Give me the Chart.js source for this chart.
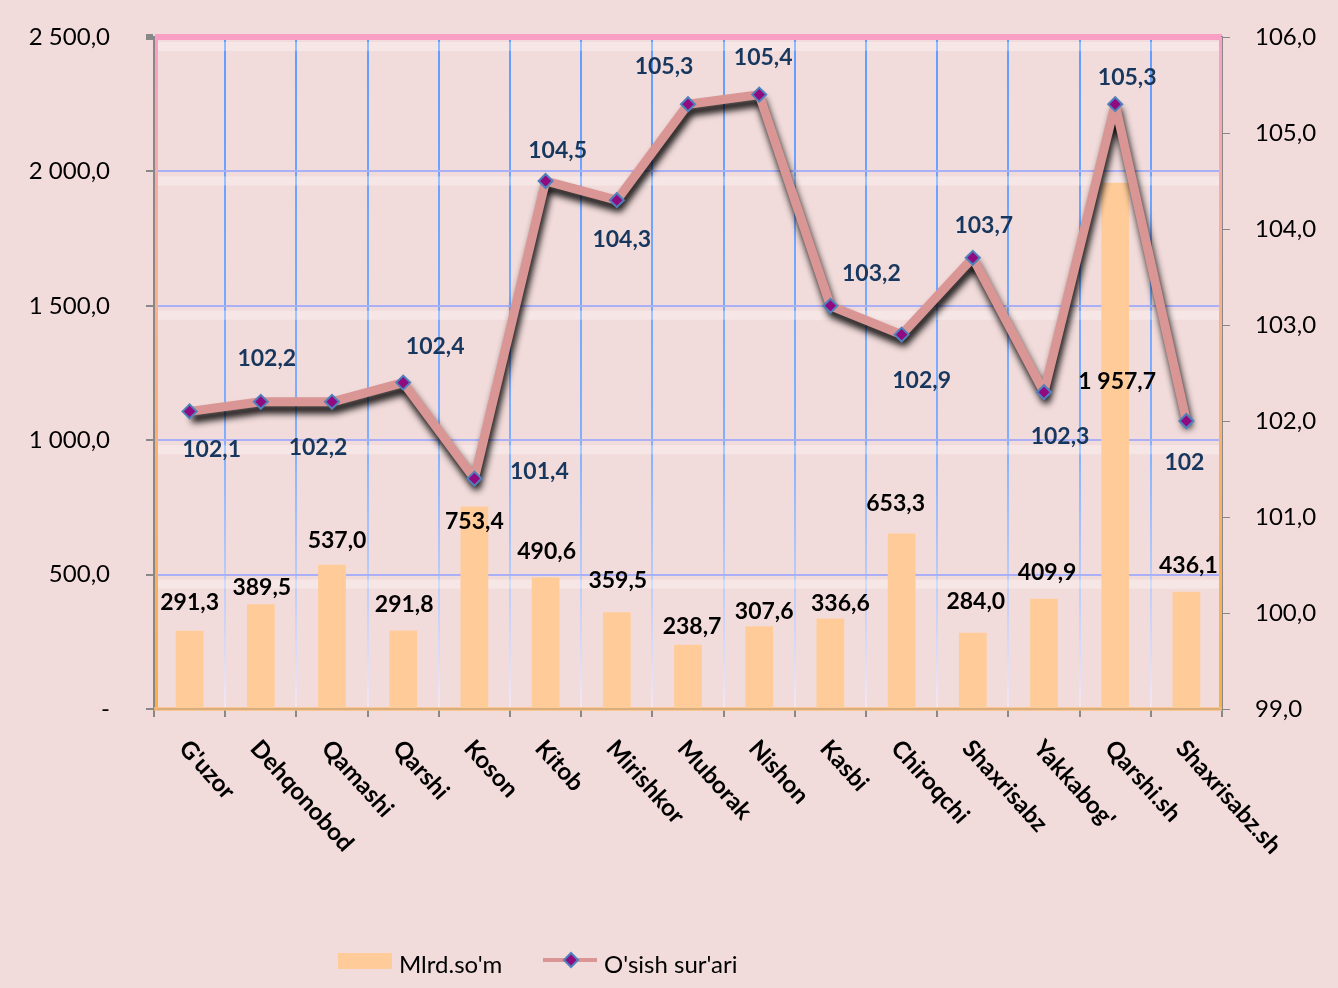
<!DOCTYPE html>
<html>
<head>
<meta charset="utf-8">
<script src="https://cdn.jsdelivr.net/npm/chart.js@4"></script>
<style>
    body { margin: 0; background: #f2dcdb; }
    canvas { display: block; }
</style>
</head>
<body>
<canvas id="chart" width="1338" height="988"></canvas>
<script>
// Districts
const districts = ["G'uzor", "Dehqonobod", "Qamashi", "Qarshi", "Koson", "Kitob", "Mirishkor", "Muborak",
    "Nishon", "Kasbi", "Chiroqchi", "Shaxrisabz", "Yakkabog'", "Qarshi.sh", "Shaxrisabz.sh"];

// Volume, mlrd so'm (left axis)
const volume = [291.3, 389.5, 537.0, 291.8, 753.4, 490.6, 359.5, 238.7, 307.6, 336.6, 653.3, 284.0, 409.9, 1957.7, 436.1];

// Growth rate, % (right axis)
const growth = [102.1, 102.2, 102.2, 102.4, 101.4, 104.5, 104.3, 105.3, 105.4, 103.2, 102.9, 103.7, 102.3, 105.3, 102];

// Axis ranges
const leftTicks = [0, 500, 1000, 1500, 2000, 2500];
const rightTicks = [99, 100, 101, 102, 103, 104, 105, 106];

const seriesNames = ["Mlrd.so'm", "O'sish sur'ari"];

// Label nudges (px) so labels sit where Excel put them
const barLabelDy = [-28, -17, -24, -26, 15, -26, -32, -18, -15, -15, -30, -31, -26, 199, -26];
const barLabelDx = [0, 1, 5, 1, 0, 1, 1, 4, 5, 10, -6, 3, 3, 2, 2];
const lineLabelDx = [22, 6, -14, 32, 65, 12, 5, -24, 4, 41, 20, 11, 16, 12, -2];
const lineLabelDy = [38, -43, 46, -36, -7, -30, 39, -38, -37, -32, 46, -32, 44, -27, 42];

const FONT = "Lato";
Chart.defaults.font.family = FONT;
Chart.defaults.color = "#000";

function fmtNum(v) {
    const parts = v.toFixed(1).split(".");
    parts[0] = parts[0].replace(/\B(?=(\d{3})+(?!\d))/g, " ");
    return parts.join(",");
}

function fmtGrowth(v, i) {
    return i === growth.length - 1 ? String(v) : v.toFixed(1).replace(".", ",");
}

// Background bits: light bands under gridlines, inner border strips
const decorPlugin = {
    id: "decor",
    beforeDatasetsDraw(chart) {
        const { ctx, chartArea: a, scales } = chart;
        ctx.save();
        ctx.fillStyle = "rgba(255,255,255,0.3)";
        leftTicks.forEach((t) => {
            if (t === 0) return;
            const y = scales.y.getPixelForValue(t);
            ctx.fillRect(a.left + 3, y + 5, a.right - a.left - 6, 9);
        });
        const g = ctx.createLinearGradient(0, a.top, 0, a.bottom);
        g.addColorStop(0, "#f99fc9");
        g.addColorStop(0.35, "#fbb090");
        g.addColorStop(1, "#fcb040");
        ctx.fillStyle = g;
        ctx.fillRect(a.left + 1, a.top, 3, a.bottom - a.top);
        ctx.fillRect(a.right - 3, a.top, 3, a.bottom - a.top);
        ctx.fillStyle = "rgba(252,190,120,0.7)";
        ctx.fillRect(a.left, a.bottom - 2, a.right - a.left, 4);
        ctx.restore();
    },
};

// Drop shadow under the growth line
const shadowPlugin = {
    id: "lineShadow",
    beforeDatasetDraw(chart, args) {
        if (args.index !== 1) return;
        const ctx = chart.ctx;
        ctx.save();
        ctx.shadowColor = "rgba(0,0,0,0.95)";
        ctx.shadowBlur = 7;
        ctx.shadowOffsetX = 2;
        ctx.shadowOffsetY = 7;
    },
    afterDatasetDraw(chart, args) {
        if (args.index !== 1) return;
        chart.ctx.restore();
    },
};

// Value labels, rotated category labels, legend
const labelsPlugin = {
    id: "labels",
    afterDraw(chart) {
        const { ctx, scales } = chart;
        const xs = scales.x;
        ctx.save();

        // bar values
        ctx.font = "bold 23px " + FONT;
        ctx.textAlign = "center";
        ctx.textBaseline = "middle";
        ctx.fillStyle = "#000";
        volume.forEach((v, i) => {
            const x = xs.getPixelForValue(i) + barLabelDx[i];
            const y = scales.y.getPixelForValue(v) + barLabelDy[i];
            ctx.fillText(fmtNum(v), x, y);
        });

        // growth values
        ctx.fillStyle = "#17375e";
        growth.forEach((v, i) => {
            const x = xs.getPixelForValue(i) + lineLabelDx[i];
            const y = scales.y1.getPixelForValue(v) + lineLabelDy[i];
            ctx.fillText(fmtGrowth(v, i), x, y);
        });

        // category labels, rotated downwards
        ctx.fillStyle = "#000";
        ctx.font = "bold 24px " + FONT;
        ctx.textAlign = "left";
        districts.forEach((d, i) => {
            ctx.save();
            ctx.translate(xs.getPixelForValue(i) - 6, 744);
            ctx.rotate(Math.PI / 4 + 0.05);
            ctx.fillText(d, 0, 0);
            ctx.restore();
        });

        // legend
        const ly = 962;
        ctx.fillStyle = "#ffcc99";
        ctx.fillRect(338, ly - 9, 54, 16);
        ctx.strokeStyle = "#d99694";
        ctx.lineWidth = 4;
        ctx.beginPath();
        ctx.moveTo(543, ly - 2);
        ctx.lineTo(597, ly - 2);
        ctx.stroke();
        ctx.fillStyle = "#900a80";
        ctx.strokeStyle = "#4f81bd";
        ctx.lineWidth = 2;
        ctx.beginPath();
        ctx.moveTo(571, ly - 9);
        ctx.lineTo(578, ly - 2);
        ctx.lineTo(571, ly + 5);
        ctx.lineTo(564, ly - 2);
        ctx.closePath();
        ctx.fill();
        ctx.stroke();
        ctx.fillStyle = "#000";
        ctx.font = "24px " + FONT;
        ctx.textBaseline = "middle";
        ctx.fillText(seriesNames[0], 399, ly + 3);
        ctx.fillText(seriesNames[1], 604, ly + 3);

        ctx.restore();
    },
};

let vGrad = null;
function verticalGridColor(context) {
    const chart = context.chart;
    const a = chart.chartArea;
    if (!a) return "#6fa8ff";
    if (!vGrad) {
        vGrad = chart.ctx.createLinearGradient(0, a.top, 0, a.bottom);
        vGrad.addColorStop(0, "#5f9dff");
        vGrad.addColorStop(0.6, "#7fb0ff");
        vGrad.addColorStop(1, "#f3e6f4");
    }
    return vGrad;
}

// keep the plot box where the original has it
function fixSide(width) {
    return (s) => {
        s.width = width;
        s.paddingTop = 0;
        s.paddingBottom = 0;
    };
}

new Chart(document.getElementById("chart"), {
    data: {
        labels: districts,
        datasets: [
            {
                type: "bar",
                label: seriesNames[0],
                data: volume,
                yAxisID: "y",
                backgroundColor: "#ffcc99",
                barPercentage: 0.39,
                categoryPercentage: 1,
                order: 3,
            },
            {
                type: "line",
                label: seriesNames[1],
                data: growth,
                yAxisID: "y1",
                borderColor: "#d99694",
                borderWidth: 9,
                borderJoinStyle: "round",
                tension: 0,
                pointRadius: 0,
                order: 2,
            },
            {
                type: "line",
                label: seriesNames[1] + " markers",
                data: growth,
                yAxisID: "y1",
                showLine: false,
                pointStyle: "rectRot",
                pointRadius: 7,
                pointBackgroundColor: "#900a80",
                pointBorderColor: "#4f81bd",
                pointBorderWidth: 2,
                order: 1,
            },
        ],
    },
    options: {
        responsive: false,
        animation: false,
        devicePixelRatio: 1,
        layout: { padding: { top: 37, left: 0, right: 0, bottom: 0 } },
        plugins: {
            legend: { display: false },
            tooltip: { enabled: false },
        },
        scales: {
            x: {
                offset: true,
                grid: {
                    offset: true,
                    color: verticalGridColor,
                    lineWidth: 2,
                    tickColor: "#888",
                    tickLength: 8,
                },
                border: { color: "#888", width: 2 },
                ticks: { display: false },
                afterFit(s) { s.height = 279; },
            },
            y: {
                position: "left",
                min: leftTicks[0],
                max: leftTicks[leftTicks.length - 1],
                ticks: {
                    stepSize: 500,
                    padding: 36,
                    font: { size: 24 },
                    color: "#000",
                    callback: (v) => (v === 0 ? "-" : fmtNum(v)),
                },
                grid: {
                    color: (c) => (c.tick && c.tick.value === 2500 ? "#f99fc3" : "#a9b0f7"),
                    lineWidth: (c) => (c.tick && c.tick.value === 2500 ? 6 : 2),
                    tickColor: "#888",
                    tickLength: 8,
                },
                border: { color: "#888", width: 2 },
                afterFit: fixSide(154),
            },
            y1: {
                position: "right",
                min: rightTicks[0],
                max: rightTicks[rightTicks.length - 1],
                ticks: {
                    stepSize: 1,
                    padding: 25,
                    font: { size: 24 },
                    color: "#000",
                    callback: (v) => v.toFixed(1).replace(".", ","),
                },
                grid: {
                    drawOnChartArea: false,
                    tickColor: "#888",
                    tickLength: 8,
                },
                border: { color: "#888", width: 2 },
                afterFit: fixSide(116),
            },
        },
    },
    plugins: [decorPlugin, shadowPlugin, labelsPlugin],
});
</script>
</body>
</html>
